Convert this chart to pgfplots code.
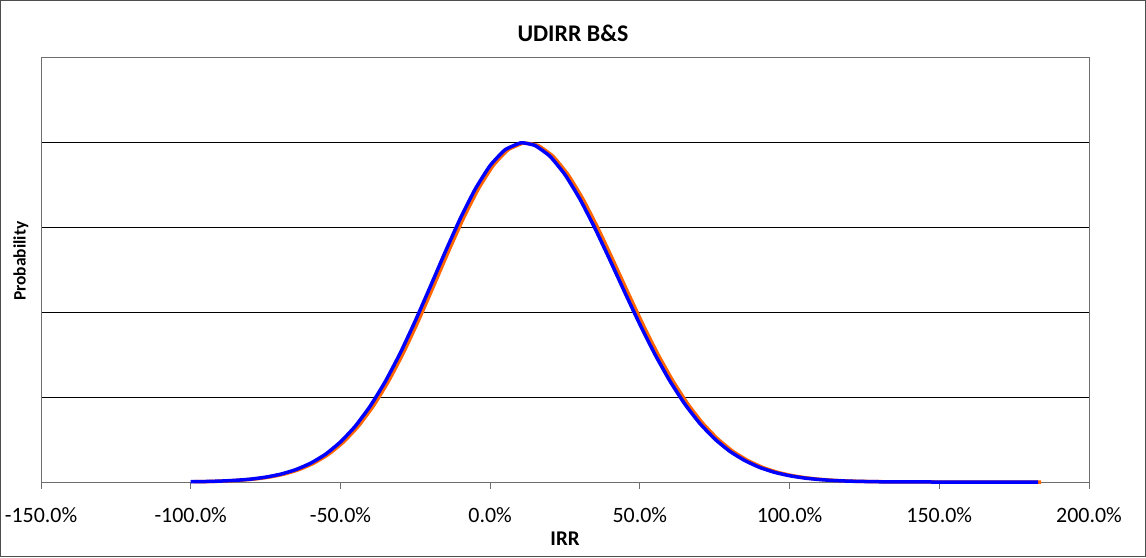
\documentclass[border=0pt]{standalone}
\usepackage{pgfplots}
\pgfplotsset{compat=1.18}
\usepackage{fontspec}
\setmainfont{Carlito}
\definecolor{xlblue}{RGB}{0,0,255}
\definecolor{xlorange}{RGB}{255,102,0}
\definecolor{boxgray}{RGB}{110,110,110}
\begin{document}
\begin{tikzpicture}
\begin{axis}[
  scale only axis, width=1048bp, height=424bp,
  xmin=-150, xmax=200, ymin=0, ymax=5,
  xtick={-150,-100,-50,0,50,100,150,200},
  xticklabels={-150.0\%,-100.0\%,-50.0\%,0.0\%,50.0\%,100.0\%,150.0\%,200.0\%},
  xtick pos=lower, tick align=outside, major tick length=7bp,
  x tick style={boxgray, line width=1bp},
  ytick={1,2,3,4}, yticklabels={}, y tick style={draw=none},
  ymajorgrids, grid style={black, line width=0.9bp},
  axis line style={boxgray, line width=1bp},
  ticklabel style={font=\fontsize{22}{26}\selectfont},
  xticklabel style={yshift=-15bp},
  title={UDIRR B\&S},
  title style={font=\fontsize{24}{28}\selectfont\bfseries, at={(0.5,1)}, anchor=center, yshift=19bp, xshift=8bp},
  xlabel={IRR},
  xlabel style={font=\fontsize{21}{24}\selectfont\bfseries, at={(0.5,0)}, anchor=center, yshift=-57bp},
  ylabel={Probability},
  ylabel style={font=\fontsize{17.5}{21}\selectfont\bfseries, at={(-0.0191,0.521)}, anchor=center},
  clip=false,
]
\addplot[xlorange, line width=3.5bp, line join=round, smooth, tension=0.3] coordinates {
(-99,0.003)(-94,0.006)(-89,0.011)(-84,0.020)(-79,0.034)(-74,0.057)(-69,0.092)(-64,0.145)
(-59,0.221)(-54,0.327)(-49,0.472)(-44,0.660)(-39,0.898)(-34,1.186)(-29,1.522)(-24,1.900)
(-19,2.303)(-14,2.713)(-9,3.105)(-4,3.453)(1,3.732)(6,3.918)(11,3.998)(12,3.995)
(16,3.968)(21,3.840)(26,3.624)(31,3.335)(36,2.992)(41,2.618)(46,2.234)(51,1.859)
(56,1.508)(61,1.193)(66,0.920)(71,0.692)(76,0.508)(81,0.363)(86,0.254)(91,0.172)
(96,0.114)(101,0.074)(106,0.047)(111,0.029)(116,0.017)(121,0.010)(126,0.006)(131,0.003)
(141,0.001)(151,0.000)(184,0.000)
};
\addplot[xlblue, line width=3.5bp, line join=round, smooth, tension=0.3] coordinates {
(-100,0.003)(-95,0.006)(-90,0.011)(-85,0.020)(-80,0.034)(-75,0.057)(-70,0.092)(-65,0.145)
(-60,0.221)(-55,0.327)(-50,0.472)(-45,0.660)(-40,0.898)(-35,1.186)(-30,1.522)(-25,1.900)
(-20,2.303)(-15,2.713)(-10,3.105)(-5,3.453)(0,3.732)(5,3.918)(10,3.998)(11,4.000)
(15,3.968)(20,3.840)(25,3.624)(30,3.335)(35,2.992)(40,2.618)(45,2.234)(50,1.859)
(55,1.508)(60,1.193)(65,0.920)(70,0.692)(75,0.508)(80,0.363)(85,0.254)(90,0.172)
(95,0.114)(100,0.074)(105,0.047)(110,0.029)(115,0.017)(120,0.010)(125,0.006)(130,0.003)
(140,0.001)(150,0.000)(183,0.000)
};
\coordinate (SW) at (rel axis cs:0,0);
\coordinate (NE) at (rel axis cs:1,1);
\end{axis}
\draw[boxgray!70!black, line width=1.2bp] ([shift={(-40.4bp,-74.4bp)}]SW) rectangle ([shift={(56.4bp,57.4bp)}]NE);
\end{tikzpicture}
\end{document}
